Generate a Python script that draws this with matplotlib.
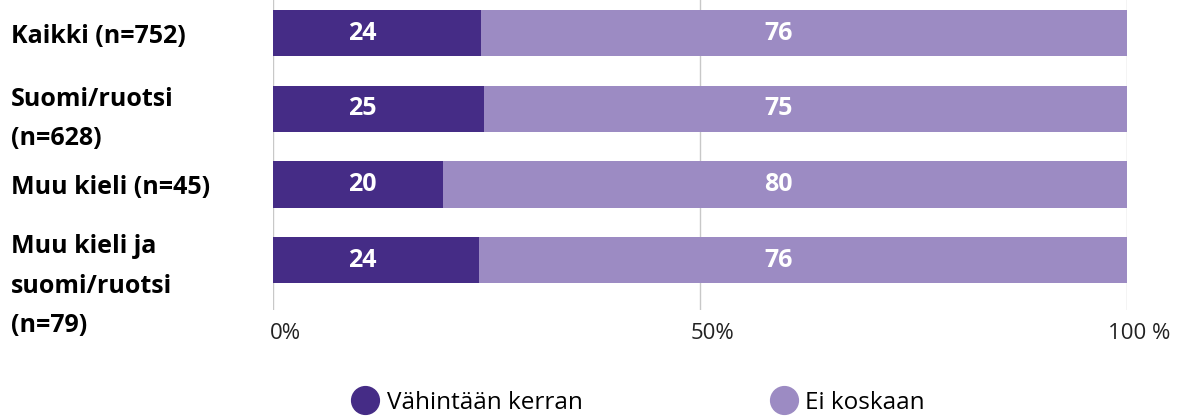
import numpy as np
import matplotlib.pyplot as plt
import matplotlib.transforms as mtransforms
from matplotlib.lines import Line2D

categories = ["Kaikki (n=752)", "Suomi/ruotsi\n(n=628)", "Muu kieli (n=45)",
              "Muu kieli ja\nsuomi/ruotsi\n(n=79)"]
vahintaan = [24.4, 24.7, 19.9, 24.1]
ei_koskaan = [75.6, 75.3, 80.1, 75.9]
labels_a = ["24", "25", "20", "24"]
labels_b = ["76", "75", "80", "76"]
series_names = ["Vähintään kerran", "Ei koskaan"]

dark = "#452c86"
light = "#9c8bc3"

plt.rcParams['font.family'] = ['Open Sans', 'DejaVu Sans']

fig = plt.figure(figsize=(11.83, 4.18), dpi=100)
ax = fig.add_axes([0.2308, 0.258, 0.7219, 0.742])

y = np.arange(len(categories))
ax.barh(y, vahintaan, height=0.61, color=dark, zorder=2)
ax.barh(y, ei_koskaan, left=vahintaan, height=0.61, color=light, zorder=2)

for i in range(len(categories)):
    ax.text(10.5, y[i], labels_a[i], color="white", fontsize=18, fontweight="bold",
            ha="center", va="center", zorder=3)
    ax.text(59.2, y[i], labels_b[i], color="white", fontsize=18, fontweight="bold",
            ha="center", va="center", zorder=3)

ax.set_xlim(0, 100)
ax.set_ylim(3.661, -0.436)
ax.set_xticks([0, 50, 100])
ax.set_xticklabels(["0%", "50%", "100 %"], fontsize=16)
ax.tick_params(axis="x", length=0, pad=9, colors="#222222")
ax.xaxis.grid(True, color="#c8c8c8", linewidth=1, zorder=0)
for s in ax.spines.values():
    s.set_visible(False)
# tick labels sit a bit right of their gridline
shift_x = mtransforms.ScaledTranslation(12 / 100, 0, fig.dpi_scale_trans)
for lab in ax.get_xticklabels():
    lab.set_transform(lab.get_transform() + shift_x)

ax.set_yticks(y)
ax.set_yticklabels(categories, fontsize=18, fontweight="bold", ha="left",
                   linespacing=1.75)
ax.tick_params(axis="y", length=0, pad=189)
# last label hangs lower than its bar
lab = ax.get_yticklabels()[3]
lab.set_transform(lab.get_transform() +
                  mtransforms.ScaledTranslation(0, -16 / 100, fig.dpi_scale_trans))

handles = [Line2D([], [], marker="o", linestyle="", markersize=20, color=c)
           for c in [dark, light]]
fig.legend(handles, series_names, loc="lower left", bbox_to_anchor=(0.28, -0.045),
           ncol=2, frameon=False, fontsize=17.5, columnspacing=7.75,
           handletextpad=0.4, handlelength=1.0)

fig.savefig("out.png", dpi=100)
